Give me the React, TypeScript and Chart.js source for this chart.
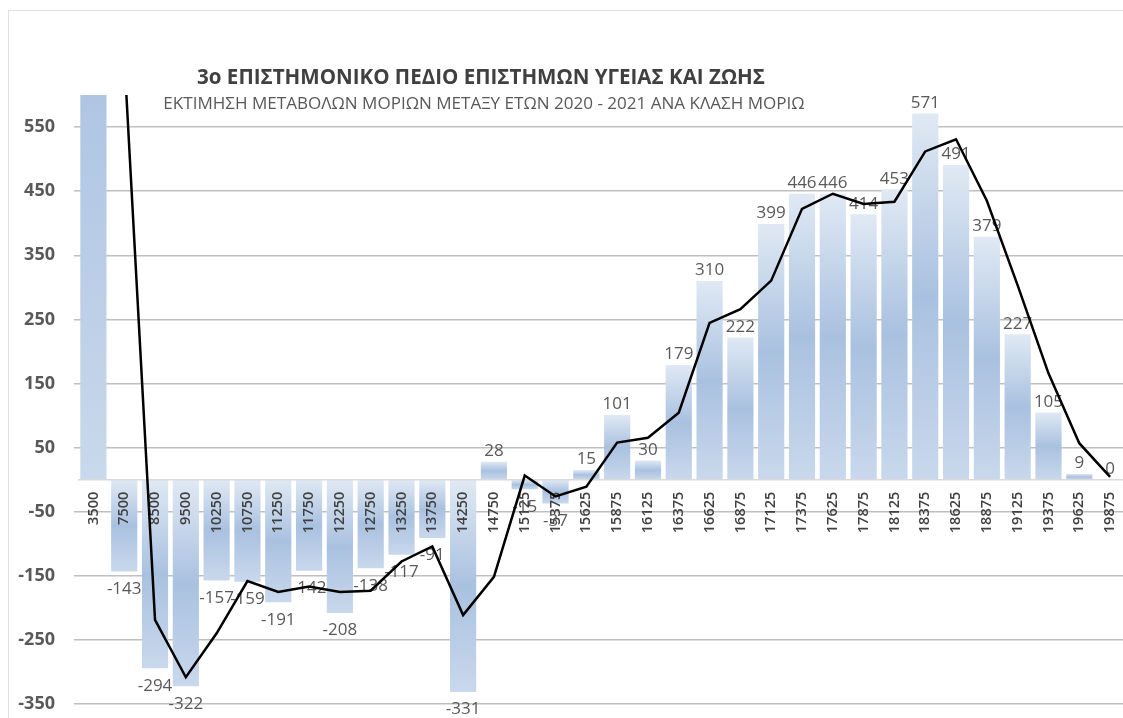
import React, { useEffect, useRef } from "react";
import { Chart, registerables } from "chart.js";

Chart.register(...registerables);

const categories = [
  "3500", "7500", "8500", "9500", "10250", "10750", "11250", "11750", "12250", "12750",
  "13250", "13750", "14250", "14750", "15125", "15375", "15625", "15875", "16125", "16375",
  "16625", "16875", "17125", "17375", "17625", "17875", "18125", "18375", "18625", "18875",
  "19125", "19375", "19625", "19875",
];

const barValues = [
  1467, -143, -294, -322, -157, -159, -191, -142, -208, -138,
  -117, -91, -331, 28, -15, -37, 15, 101, 30, 179,
  310, 222, 399, 446, 446, 414, 453, 571, 491, 379,
  227, 105, 9, 0,
];

const trendValues = [
  null, 662, -218.5, -308, -239.5, -158, -175, -166.5, -175, -173,
  -127.5, -104, -211, -151.5, 6.5, -26, -11, 58, 65.5, 104.5,
  244.5, 266, 310.5, 422.5, 446, 430, 433.5, 512, 531, 435,
  303, 166, 57, 4.5,
];

const yTickValues = [-350, -250, -150, -50, 50, 150, 250, 350, 450, 550];

const titleText = "3ο ΕΠΙΣΤΗΜΟΝΙΚΟ ΠΕΔΙΟ ΕΠΙΣΤΗΜΩΝ ΥΓΕΙΑΣ ΚΑΙ ΖΩΗΣ";
const subtitleText = "ΕΚΤΙΜΗΣΗ ΜΕΤΑΒΟΛΩΝ ΜΟΡΙΩΝ ΜΕΤΑΞΥ ΕΤΩΝ 2020 - 2021 ΑΝΑ ΚΛΑΣΗ ΜΟΡΙΩ";

const FONT = "'Open Sans', 'DejaVu Sans', sans-serif";

function fitText(
  ctx: CanvasRenderingContext2D,
  text: string,
  weight: string,
  targetWidth: number,
  cx: number,
  cy: number,
  color: string
) {
  ctx.font = `${weight} 20px ${FONT}`;
  const w = ctx.measureText(text).width;
  const size = (20 * targetWidth) / w;
  ctx.font = `${weight} ${size}px ${FONT}`;
  ctx.fillStyle = color;
  ctx.textAlign = "center";
  ctx.textBaseline = "middle";
  ctx.fillText(text, cx, cy);
}

const labelsPlugin = {
  id: "customLabels",
  afterDatasetDraw(chart: any, args: any) {
    if (args.index !== 0) return;
    const ctx: CanvasRenderingContext2D = chart.ctx;
    const yScale = chart.scales.y;
    const xScale = chart.scales.x;
    const area = chart.chartArea;
    const y0 = yScale.getPixelForValue(0);
    ctx.save();
    ctx.strokeStyle = "#d9d9d9";
    ctx.lineWidth = 1.5;
    ctx.beginPath();
    ctx.moveTo(area.left, y0);
    ctx.lineTo(area.right, y0);
    ctx.stroke();
    ctx.font = `600 14.5px ${FONT}`;
    ctx.fillStyle = "#404040";
    ctx.textAlign = "right";
    ctx.textBaseline = "middle";
    categories.forEach((c, i) => {
      const x = xScale.getPixelForValue(i);
      ctx.save();
      ctx.translate(x, y0 + 12);
      ctx.rotate(-Math.PI / 2);
      ctx.fillText(c, 0, 0);
      ctx.restore();
    });
    ctx.font = `17px ${FONT}`;
    ctx.fillStyle = "#595959";
    ctx.textAlign = "center";
    barValues.forEach((v, i) => {
      if (v > yScale.max) return;
      const x = xScale.getPixelForValue(i);
      const y = yScale.getPixelForValue(v);
      if (v >= 0) {
        ctx.textBaseline = "bottom";
        ctx.fillText(String(v), x, y - 2);
      } else {
        ctx.textBaseline = "top";
        ctx.fillText(String(v), x, y + 9);
      }
    });
    ctx.restore();
  },
  afterDraw(chart: any) {
    const ctx: CanvasRenderingContext2D = chart.ctx;
    ctx.save();
    fitText(ctx, titleText, "bold", 568, 481, 78, "#404040");
    fitText(ctx, subtitleText, "normal", 642, 484, 104, "#595959");
    ctx.restore();
  },
};

function barGradient(c: any) {
  const chart = c.chart;
  const area = chart.chartArea;
  if (!area || c.type !== "data" || !chart.scales.y) return "#b8cce4";
  const ys = chart.scales.y;
  const v = c.raw as number;
  const p0 = ys.getPixelForValue(0);
  const p1 = ys.getPixelForValue(v);
  const top = Math.min(p0, p1);
  const bot = Math.max(p0, p1);
  if (bot - top < 1) return "#b8cce4";
  const g = chart.ctx.createLinearGradient(0, top, 0, bot);
  g.addColorStop(0, "#e0e9f4");
  g.addColorStop(0.5, "#a9c1e0");
  g.addColorStop(1, "#c9d8ec");
  return g;
}

export default function App() {
  const canvasRef = useRef<HTMLCanvasElement | null>(null);

  useEffect(() => {
    const canvas = canvasRef.current;
    if (!canvas) return;
    const chart = new Chart(canvas, {
      type: "bar",
      data: {
        labels: categories,
        datasets: [
          {
            type: "bar",
            data: barValues,
            backgroundColor: barGradient as any,
            borderWidth: 0,
            barPercentage: 0.85,
            categoryPercentage: 1,
            order: 2,
          },
          {
            type: "line",
            data: trendValues as any,
            borderColor: "#000000",
            borderWidth: 2.5,
            pointRadius: 0,
            tension: 0,
            fill: false,
            spanGaps: false,
            order: 1,
          },
        ],
      },
      plugins: [labelsPlugin],
      options: {
        responsive: false,
        animation: false,
        devicePixelRatio: 1,
        layout: { padding: { top: 95, bottom: 1, right: 4.5, left: 0 } },
        plugins: {
          legend: { display: false },
          tooltip: { enabled: false },
          title: { display: false },
        },
        scales: {
          x: {
            display: false,
            offset: true,
            grid: { display: false },
          },
          y: {
            min: -370,
            max: 600,
            afterBuildTicks: (scale: any) => {
              scale.ticks = yTickValues.map((v) => ({ value: v }));
            },
            afterFit: (scale: any) => {
              scale.width = 78;
              scale.paddingTop = 0;
              scale.paddingBottom = 0;
            },
            border: { display: false },
            grid: {
              color: "#bfbfbf",
              lineWidth: 1.5,
              tickLength: 4,
              drawTicks: true,
            },
            ticks: {
              padding: 19,
              color: "#595959",
              font: { family: FONT, size: 18, weight: "bold" },
            },
          },
        },
      },
    });
    return () => chart.destroy();
  }, []);

  return (
    <div
      style={{
        position: "fixed",
        left: 0,
        top: 0,
        width: 1123,
        height: 718,
        overflow: "hidden",
        background: "#ffffff",
      }}
    >
      <div
        style={{
          position: "absolute",
          left: 8,
          top: 10,
          width: 1200,
          height: 800,
          border: "1px solid #e0e0e0",
          boxSizing: "border-box",
        }}
      />
      <canvas
        ref={canvasRef}
        width={1130}
        height={718}
        style={{ position: "absolute", left: 0, top: 0, width: 1130, height: 718 }}
      />
    </div>
  );
}
